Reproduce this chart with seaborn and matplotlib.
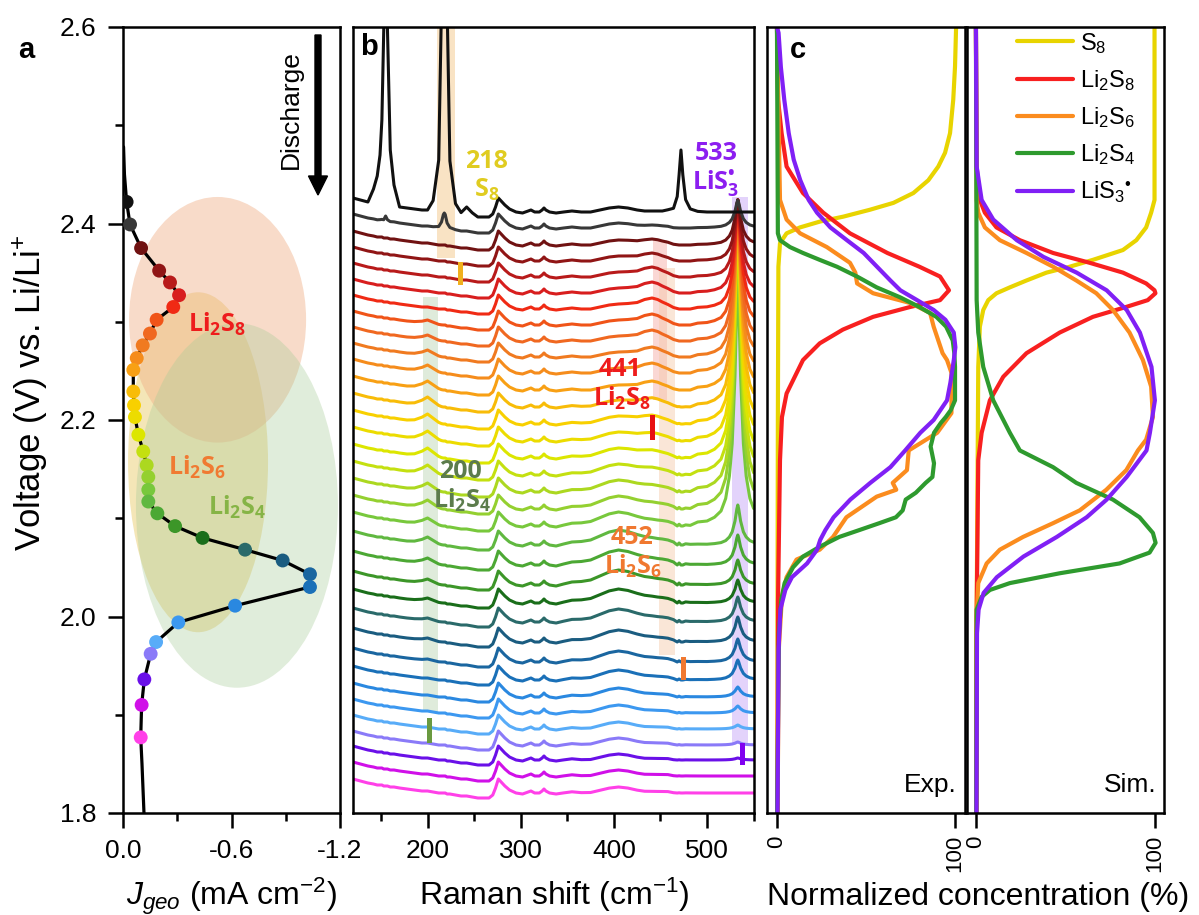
import pandas as pd
import matplotlib
matplotlib.use('Agg')
import matplotlib.pyplot as plt
import matplotlib.transforms as mtransforms
import seaborn as sns
from matplotlib.patches import Ellipse, Rectangle, FancyArrow
from matplotlib.lines import Line2D

W, H = 1199, 915

# ---------------- panel a: current vs voltage ----------------
DOT_V = [2.422, 2.399, 2.375, 2.352, 2.340, 2.327, 2.315, 2.302, 2.288, 2.276, 2.263, 2.251,
         2.229, 2.215, 2.203, 2.185, 2.168, 2.154, 2.142, 2.129, 2.117, 2.105, 2.092, 2.080,
         2.068, 2.057, 2.043, 2.030, 2.011, 1.994, 1.974, 1.962, 1.936, 1.910, 1.877]
DOT_J = [-0.020, -0.039, -0.100, -0.200, -0.260, -0.310, -0.278, -0.186, -0.149, -0.109, -0.076, -0.057,
         -0.057, -0.061, -0.066, -0.085, -0.112, -0.131, -0.140, -0.140, -0.140, -0.190, -0.288, -0.440,
         -0.675, -0.883, -1.034, -1.034, -0.620, -0.306, -0.183, -0.153, -0.118, -0.103, -0.098]
TOP_V, TOP_J = [2.478, 2.450], [-0.003, -0.008]
END_V, END_J = [1.850, 1.800], [-0.105, -0.116]

COLORS = ['#111111', '#383838', '#701212', '#901515', '#b81a1a', '#d81e1e', '#f02a14', '#f05418',
          '#f06820', '#f07a20', '#f58c1c', '#f8a014', '#f8bc08', '#f8d000', '#ecdc00', '#dce600',
          '#c4e010', '#acd820', '#94d030', '#78c83c', '#60b840', '#4ca834', '#3c9628', '#1a6e1a',
          '#2a6a6a', '#1a5c80', '#1a66a0', '#1a70b8', '#2a88e0', '#3c98f0', '#58acf8', '#8a7af8',
          '#6a10e8', '#d010e8', '#ff40e8']

# (centre J, centre V, width, height, colour, alpha)
ELLIPSES = [(-0.415, 2.157, 0.774, 0.346, '#e8c860', 0.45),
            (-0.523, 2.302, 0.979, 0.250, '#f0b088', 0.45),
            (-0.630, 2.113, 1.117, 0.371, '#a8cc98', 0.35)]

# ---------------- panel b: Raman spectra (heights in px) ----------------
WN = [120, 128, 136, 142, 146, 149, 151, 153, 155, 157, 160, 164, 170, 178, 186, 194, 200, 206, 212, 215,
      217, 218, 219, 221, 224, 230, 236, 242, 248, 254, 260, 266, 270, 273, 276, 279, 283, 288, 295, 302,
      308, 311, 315, 320, 323, 325, 327, 331, 338, 346, 355, 365, 375, 385, 395, 405, 415, 425, 433, 441,
      447, 452, 458, 464, 468, 470, 472, 474, 477, 482, 490, 500, 508, 515, 520, 524, 527, 530, 532, 533,
      534, 536, 539, 542, 546, 550]
BASE = [14, 12, 10, 9, 8, 8, 8, 7, 7, 7, 6, 6, 5, 4, 3, 2, 2, 1, 0, 0,
        0, 0, 0, -1, -1, -2, -3, -3, -4, -5, -5, -5, -2, 5, 14, 11, 7, 3, 0, -1,
        1, 2, 0, 0, 2, 4, 2, 0, -1, 0, 1, 0, 0, 2, 4, 5, 4, 2, 1, 1,
        1, 1, 1, 0, 0, 0, 0, 0, 0, 0, 0, 0, 0, 0, 0, 0, 0, 0, 0, 0,
        0, 0, 0, 0, 0, 0]
BASELINE = [212, 228, 245, 261, 277, 293, 309, 325, 341, 357, 373, 390, 407, 424, 441, 458, 475, 492,
            509, 526, 545, 565, 585, 603, 622, 642, 662, 680, 697, 713, 729, 745, 760, 776, 793]

B153 = {142: 0.02, 146: 0.04, 149: 0.07, 151: 0.12, 153: 0.25, 155: 1.0, 157: 0.25, 160: 0.08, 164: 0.03}
B218 = {206: 0.02, 212: 0.1, 215: 0.4, 217: 0.9, 218: 1.0, 219: 0.9, 221: 0.4, 224: 0.1, 230: 0.02}
B245 = {236: 0.3, 242: 1.0, 248: 0.4}
B200 = {186: 0.15, 194: 0.6, 200: 1.0, 206: 0.6, 212: 0.2, 215: 0.05}
B400 = {346: 0.1, 355: 0.2, 365: 0.35, 375: 0.5, 385: 0.7, 395: 0.9, 405: 1.0, 415: 0.95, 425: 0.85,
        433: 0.75, 441: 0.65, 447: 0.55, 452: 0.5, 458: 0.4, 464: 0.3, 470: 0.2, 477: 0.12, 482: 0.07,
        490: 0.03}
B441 = {415: 0.15, 425: 0.45, 433: 0.85, 441: 1.0, 447: 0.85, 452: 0.6, 458: 0.35, 464: 0.15, 468: 0.05}
B472 = {458: 0.02, 464: 0.06, 468: 0.25, 470: 0.6, 472: 1.0, 474: 0.6, 477: 0.2, 482: 0.05, 490: 0.01}
B533 = {490: 0.015, 500: 0.02, 508: 0.035, 515: 0.06, 520: 0.11, 524: 0.2, 527: 0.33, 530: 0.6,
        532: 0.9, 533: 1.0, 534: 0.9, 536: 0.6, 539: 0.33, 542: 0.2, 546: 0.11, 550: 0.07}

A153 = [700, 5] + [0] * 33
A218 = [520, 15] + [0] * 33
A245 = [8] + [0] * 34
A472 = [62] + [0] * 34
A200 = [0, 0, 0, 0, 0, 0, 0, 3, 4, 5, 6, 7, 8, 8, 8, 8, 8, 7, 7, 6, 6, 5, 4, 3, 2, 2, 1, 0, 0, 0, 0, 0, 0, 0, 0]
A441 = [0, 2, 5, 7, 9, 10, 10, 10, 10, 9, 9, 8, 7, 6, 5, 4, 3, 2, 1, 0, 0, 0, 0, 0, 0, 0, 0, 0, 0, 0, 0, 0, 0, 0, 0]
A400 = [0, 0, 0, 0, 0, 0, 0, 0, 0, 0, 0, 0, 2, 3, 4, 5, 6, 7, 8, 9, 10, 10, 10, 9, 8, 7, 6, 5, 4, 3, 2, 2, 1, 1, 1]
A533 = [0, 28, 45, 61, 77, 93, 109, 125, 141, 157, 172, 188, 204, 220, 236, 250, 264, 276, 280, 250,
        40, 30, 25, 23, 25, 25, 23, 20, 10, 7, 4, 3, 2, 0, 0]

# highlighted bands: (wn0, wn1, y0, y1, colour, alpha) in px heights above the axis bottom
BANDS_HL = [(210, 230, 555, 786, '#f5c88a', 0.5),
            (442, 457, 413, 573, '#f4a8a0', 0.45),
            (448, 466, 158, 545, '#f5c8a8', 0.45),
            (195, 211, 101, 516, '#b8d4b0', 0.45),
            (527, 544, 70, 616, '#c8a8f8', 0.5)]
MARKS = [(232.5, 528, 551, '#f0b01e'), (439, 373, 398, '#e81010'), (472, 133, 156, '#f07830'),
         (199.5, 70, 95, '#6a9a40'), (535.5, 48, 70, '#8000f0')]

# ---------------- panel c: normalised concentrations ----------------
EXP_S8_V = [2.60, 2.56, 2.526, 2.492, 2.472, 2.458, 2.444, 2.431, 2.421, 2.414, 2.407, 2.402, 2.396, 2.390, 2.380, 2.356, 2.2, 2.0, 1.8]
EXP_S8_C = [100.6, 100, 99, 97.2, 94.4, 90.6, 85, 76.6, 65.4, 52.2, 37.3, 24.2, 12.9, 5.4, 1.7, 0.8, 0.5, 0.3, 0.3]
EXP_L8_V = [2.60, 2.526, 2.492, 2.458, 2.431, 2.411, 2.390, 2.370, 2.356, 2.346, 2.332, 2.322, 2.315, 2.305, 2.292, 2.278, 2.261, 2.227, 2.203, 2.159, 2.017, 1.80]
EXP_L8_C = [0, 0.6, 2.6, 5.4, 14.6, 26, 41, 62, 80, 91.6, 96.6, 91.6, 74.7, 54, 37, 24, 14.6, 5.4, 2.8, 1.7, 0.6, 0.3]
EXP_L6_V = [2.60, 2.424, 2.404, 2.390, 2.376, 2.360, 2.350, 2.339, 2.329, 2.319, 2.309, 2.295, 2.268, 2.261, 2.248, 2.207, 2.187, 2.169, 2.149, 2.136, 2.129, 2.122, 2.101, 2.081, 2.068, 2.058, 2.040, 2.020, 1.966, 1.864, 1.80]
EXP_L6_C = [0, 1.7, 5.4, 13, 28, 41, 44, 45, 54, 75, 86, 88, 93, 95.5, 98, 98, 90, 74, 73, 65, 67, 56, 39, 31.5, 24, 11, 5.4, 2.8, 1, 0.6, 0.3]
EXP_L4_V = [2.60, 2.390, 2.383, 2.376, 2.370, 2.363, 2.356, 2.346, 2.335, 2.325, 2.315, 2.305, 2.295, 2.281, 2.268, 2.254, 2.220, 2.210, 2.203, 2.197, 2.187, 2.173, 2.156, 2.142, 2.136, 2.126, 2.119, 2.108, 2.101, 2.095, 2.088, 2.081, 2.071, 2.061, 2.050, 2.034, 2.017, 1.983, 1.898, 1.80]
EXP_L4_C = [0, 0.5, 1.7, 7.3, 14.6, 24, 33.7, 45, 56, 69, 80, 89.5, 95, 98.7, 99.6, 100, 100, 97.6, 94.8, 92, 88.2, 86.3, 88.2, 87.3, 83.5, 78, 72.3, 70.6, 66.8, 57.5, 46.3, 35, 24, 14.6, 9, 4.3, 2.4, 1.1, 0.6, 0.1]
EXP_LS3_V = [2.60, 2.594, 2.559, 2.526, 2.492, 2.465, 2.444, 2.424, 2.411, 2.396, 2.383, 2.370, 2.356, 2.342, 2.332, 2.322, 2.312, 2.302, 2.289, 2.274, 2.261, 2.238, 2.220, 2.200, 2.187, 2.169, 2.152, 2.136, 2.119, 2.101, 2.088, 2.078, 2.068, 2.054, 2.040, 2.027, 2.007, 1.966, 1.80]
EXP_LS3_C = [0, 0.9, 2.2, 4.1, 6.6, 9.4, 13.1, 17.8, 22.5, 30, 39.3, 48.7, 56.2, 63.7, 69.3, 78.7, 88, 94.6, 99.3, 100.2, 99.3, 97.4, 95.5, 88, 80.5, 72, 63.7, 52.4, 41.2, 31.8, 27.2, 24.3, 22.5, 16.9, 8.4, 4.7, 1.9, 0.9, 0.3]

SIM_S8_V = [2.60, 2.424, 2.411, 2.396, 2.383, 2.373, 2.363, 2.356, 2.350, 2.342, 2.335, 2.329, 2.322, 2.312, 2.295, 2.254, 2.0, 1.8]
SIM_S8_C = [100, 100, 98.1, 95.3, 89.8, 82.3, 65.5, 52.5, 39.5, 28.3, 19, 11.5, 6.9, 4.1, 2.2, 1.3, 0.4, 0.3]
SIM_L8_V = [2.60, 2.458, 2.424, 2.411, 2.396, 2.383, 2.370, 2.360, 2.350, 2.339, 2.332, 2.329, 2.322, 2.315, 2.305, 2.289, 2.268, 2.244, 2.220, 2.187, 2.159, 2.0, 1.8]
SIM_L8_C = [0, 0.4, 2.2, 5, 11.5, 24.6, 43.2, 63.7, 82.3, 95.3, 100, 100.5, 96.2, 84, 65.5, 46.9, 28.3, 15.3, 7.8, 3.2, 1.3, 0.4, 0.2]
SIM_L6_V = [2.60, 2.424, 2.411, 2.396, 2.383, 2.370, 2.356, 2.342, 2.329, 2.312, 2.289, 2.261, 2.234, 2.203, 2.180, 2.169, 2.149, 2.129, 2.108, 2.095, 2.081, 2.068, 2.054, 2.034, 2.0, 1.8]
SIM_L6_C = [0, 0.4, 1.3, 5, 13.4, 28.3, 43.2, 56.2, 67.4, 76.7, 86, 93.5, 98.1, 99.1, 95.3, 90.7, 84.2, 73, 58.1, 43.2, 26.4, 13.4, 6, 1.3, 0.4, 0.2]
SIM_L4_V = [2.60, 2.322, 2.289, 2.254, 2.220, 2.187, 2.169, 2.152, 2.136, 2.119, 2.101, 2.085, 2.075, 2.065, 2.054, 2.044, 2.034, 2.027, 2.020, 2.007, 1.8]
SIM_L4_C = [0, 0.4, 1.3, 4.1, 9.7, 19, 24.6, 43.2, 56.2, 76.7, 91.6, 99.1, 100.6, 97.2, 80.4, 46.9, 19, 7.8, 3.2, 0.4, 0.2]
SIM_LS3_V = [2.60, 2.458, 2.424, 2.404, 2.383, 2.366, 2.350, 2.332, 2.312, 2.289, 2.254, 2.220, 2.187, 2.169, 2.142, 2.119, 2.101, 2.081, 2.061, 2.040, 2.024, 2.007, 1.983, 1.8]
SIM_LS3_C = [0, 0.4, 3.2, 9.7, 22.9, 37.8, 56.4, 73.2, 84.4, 91.8, 98.3, 100.2, 97.4, 95.5, 84.4, 73.2, 62, 45.3, 26.6, 11.7, 4.3, 1.5, 0.6, 0.3]

SPECIES = ['S$_8$', 'Li$_2$S$_8$', 'Li$_2$S$_6$', 'Li$_2$S$_4$', 'LiS$_3$$^{•}$']
SPECIES_COLORS = ['#e8d400', '#f82020', '#fb8c1e', '#2e9a2e', '#8020f5']

# ---------------- style ----------------
sns.set_style('ticks')
plt.rcParams['font.family'] = ['Liberation Sans', 'DejaVu Sans']
plt.rcParams['mathtext.fontset'] = 'custom'
plt.rcParams['mathtext.rm'] = 'Liberation Sans'
plt.rcParams['mathtext.it'] = 'Liberation Sans:italic'
plt.rcParams['mathtext.bf'] = 'Open Sans:bold'
plt.rcParams['axes.linewidth'] = 1.8
plt.rcParams['axes.edgecolor'] = 'black'
plt.rcParams['text.color'] = 'black'

fig = plt.figure(figsize=(W / 100, H / 100), dpi=100)


def box(left, right, top=27, bottom=813):
    return [left / W, 1 - bottom / H, (right - left) / W, (bottom - top) / H]


def ftext(x, y, s, **kw):
    fig.text(x / W, 1 - y / H, s, **kw)


ax_a = fig.add_axes(box(123, 340))
ax_b = fig.add_axes(box(353, 754))
ax_c1 = fig.add_axes(box(767, 965))
ax_c2 = fig.add_axes(box(967, 1164))

tick_kw = dict(direction='out', width=1.8, colors='black', labelsize=19)

# ---- panel a ----
for cx, cy, w, h, col, al in ELLIPSES:
    ax_a.add_patch(Ellipse((cx, cy), w, h, fc=col, ec='none', alpha=al, zorder=0))
sns.lineplot(x=TOP_J + DOT_J + END_J, y=TOP_V + DOT_V + END_V, sort=False, estimator=None,
             color='black', lw=2.3, ax=ax_a, zorder=2)
dots = pd.DataFrame({'J': DOT_J, 'V': DOT_V, 'k': [f'd{i}' for i in range(len(DOT_V))]})
sns.scatterplot(data=dots, x='J', y='V', hue='k', palette=dict(zip(dots['k'], COLORS)),
                s=100, edgecolor='none', legend=False, ax=ax_a, zorder=3)
ax_a.set_xlim(0, -1.2)
ax_a.set_ylim(1.8, 2.6)
ax_a.set_xticks([0, -0.6, -1.2], ['0.0', '-0.6', '-1.2'])
ax_a.set_xticks([-0.3, -0.9], minor=True)
ax_a.set_yticks([1.8, 2.0, 2.2, 2.4, 2.6], ['1.8', '2.0', '2.2', '2.4', '2.6'])
ax_a.set_yticks([1.9, 2.1, 2.3, 2.5], minor=True)
ax_a.tick_params(which='major', length=11, pad=8, **tick_kw)
ax_a.tick_params(which='minor', length=6, direction='out', width=1.8, colors='black')
ax_a.set_xlabel('')
ax_a.set_ylabel('')
lab_kw = dict(ha='center', va='center', fontsize=18)
ax_a.text(-0.520, 2.297, r'$\mathbf{Li_2S_8}$', color='#ee1c1c', **lab_kw)
ax_a.text(-0.409, 2.152, r'$\mathbf{Li_2S_6}$', color='#f07a32', **lab_kw)
ax_a.text(-0.630, 2.111, r'$\mathbf{Li_2S_4}$', color='#86b446', **lab_kw)

# ---- panel b ----
for w0, w1, y0, y1, col, al in BANDS_HL:
    ax_b.add_patch(Rectangle((w0, y0), w1 - w0, y1 - y0, fc=col, ec='none', alpha=al, zorder=0))
band_sets = [(B153, A153), (B218, A218), (B245, A245), (B200, A200), (B400, A400),
             (B441, A441), (B472, A472), (B533, A533)]
rows = []
for i in range(len(BASELINE)):
    for j, w in enumerate(WN):
        val = 813 - BASELINE[i] + BASE[j] + sum(a[i] * b.get(w, 0) for b, a in band_sets)
        rows.append((f't{i:02d}', w, val))
spec = pd.DataFrame(rows, columns=['trace', 'wn', 'y'])
levels = [f't{i:02d}' for i in range(len(BASELINE))]
sns.lineplot(data=spec, x='wn', y='y', hue='trace', hue_order=levels[::-1],
             palette=dict(zip(levels, COLORS)), sort=False, estimator=None, lw=2.2,
             legend=False, ax=ax_b, zorder=2)
for w, y0, y1, col in MARKS:
    ax_b.add_patch(Rectangle((w, y0), 5.5, y1 - y0, fc=col, ec='none', zorder=4))
ax_b.set_xlim(120, 550.4)
ax_b.set_ylim(0, 786)
ax_b.set_xticks([200, 300, 400, 500], ['200', '300', '400', '500'])
ax_b.set_xticks([150, 250, 350, 450, 550], minor=True)
ax_b.set_yticks([])
ax_b.tick_params(which='major', length=11, pad=8, **tick_kw)
ax_b.tick_params(which='minor', length=6, direction='out', width=1.8, colors='black')
ax_b.set_xlabel('')
ax_b.set_ylabel('')

bkw = dict(ha='center', va='center', fontsize=18, family='Open Sans', weight='bold')
ftext(486, 162, '218', color='#e0cc20', **bkw)
ftext(487, 190, r'$\mathbf{S_8}$', color='#e0cc20', ha='center', va='center', fontsize=18)
ftext(716, 153, '533', color='#8c1ef0', **bkw)
ftext(716, 184, r'$\mathbf{LiS_3^{•}}$', color='#8c1ef0', ha='center', va='center', fontsize=18)
ftext(620, 370, '441', color='#ee1c1c', **bkw)
ftext(622, 398, r'$\mathbf{Li_2S_8}$', color='#ee1c1c', ha='center', va='center', fontsize=18)
ftext(460, 471, '200', color='#5c7c4c', **bkw)
ftext(462, 500, r'$\mathbf{Li_2S_4}$', color='#5c7c4c', ha='center', va='center', fontsize=18)
ftext(632, 537, '452', color='#f07830', **bkw)
ftext(633, 566, r'$\mathbf{Li_2S_6}$', color='#f07830', ha='center', va='center', fontsize=18)

# ---- panel c ----
exp_sets = [(EXP_S8_C, EXP_S8_V), (EXP_L8_C, EXP_L8_V), (EXP_L6_C, EXP_L6_V),
            (EXP_L4_C, EXP_L4_V), (EXP_LS3_C, EXP_LS3_V)]
sim_sets = [(SIM_S8_C, SIM_S8_V), (SIM_L8_C, SIM_L8_V), (SIM_L6_C, SIM_L6_V),
            (SIM_L4_C, SIM_L4_V), (SIM_LS3_C, SIM_LS3_V)]
for ax, sets in ((ax_c1, exp_sets), (ax_c2, sim_sets)):
    for (c, v), col in zip(sets, SPECIES_COLORS):
        sns.lineplot(x=c, y=v, sort=False, estimator=None, color=col, lw=3.0, ax=ax)
    ax.set_ylim(1.8, 2.6)
    ax.set_yticks([])
    ax.set_xticks([0, 100], ['0', '100'], rotation=90)
    ax.tick_params(which='major', length=11, pad=5, direction='out', width=1.8,
                   colors='black', labelsize=16)
    ax.set_xlabel('')
    ax.set_ylabel('')
ax_c1.set_xlim(-5.6, 105.6)
ax_c2.set_xlim(-5.0, 105.3)
ax_c1.text(0.96, 0.02, 'Exp.', transform=ax_c1.transAxes, ha='right', va='bottom', fontsize=19)
ax_c2.text(0.96, 0.02, 'Sim.', transform=ax_c2.transAxes, ha='right', va='bottom', fontsize=19)
handles = [Line2D([], [], color=c, lw=3.0) for c in SPECIES_COLORS]
ax_c2.legend(handles, SPECIES, loc='upper left', bbox_to_anchor=(1012 / W, 1 - 26 / H),
             bbox_transform=fig.transFigure, frameon=False, fontsize=17, handlelength=2.4,
             handletextpad=0.3, labelspacing=0.52, borderaxespad=0, borderpad=0.2)

# ---- figure texts ----
ftext(26, 50, 'a', ha='center', va='center', fontsize=21, weight='bold')
ftext(369, 47, 'b', ha='center', va='center', fontsize=21, weight='bold')
ftext(798, 50, 'c', ha='center', va='center', fontsize=21, weight='bold')
ftext(31, 393, 'Voltage (V) vs. Li/Li$^{+}$', rotation=90, ha='center', va='center', fontsize=25)
ftext(231, 905, r'$J_{geo}$ (mA cm$^{-2}$)', ha='center', va='baseline', fontsize=23)
ftext(554, 905, 'Raman shift (cm$^{-1}$)', ha='center', va='baseline', fontsize=23)
ftext(978, 905, 'Normalized concentration (%)', ha='center', va='baseline', fontsize=23)
ftext(291, 110, 'Discharge', rotation=90, ha='center', va='center', fontsize=19)
fig.add_artist(FancyArrow(318, H - 35, 0, -160, width=6, head_width=19, head_length=19,
                          length_includes_head=True, color='black',
                          transform=mtransforms.IdentityTransform()))

fig.savefig('out.png', dpi=100)
